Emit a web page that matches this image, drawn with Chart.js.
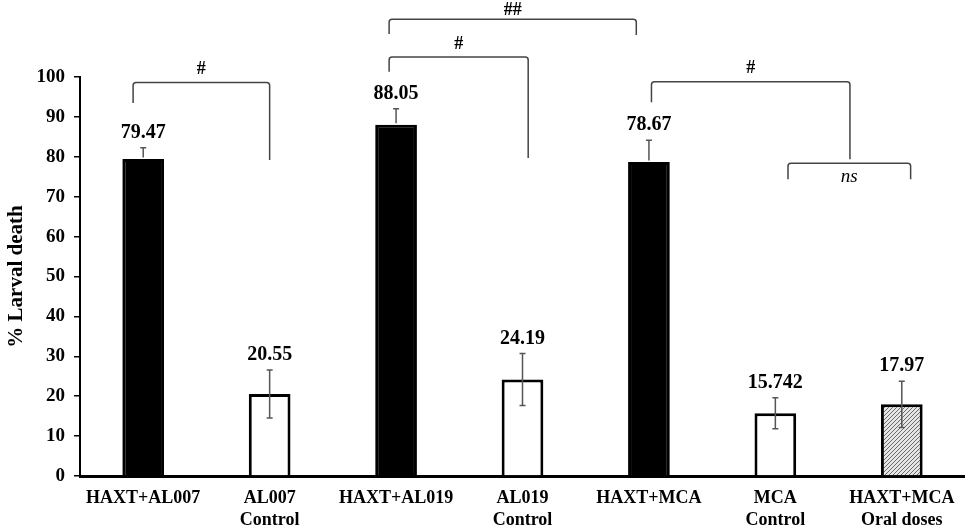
<!DOCTYPE html>
<html>
<head>
<meta charset="utf-8">
<script src="https://cdn.jsdelivr.net/npm/chart.js@4"></script>
<style>
  body { margin: 0; background: #fff; }
</style>
</head>
<body>
<canvas id="larvalChart" width="965" height="530"></canvas>
<script>
const categories = [
  "HAXT+AL007",
  ["AL007", "Control"],
  "HAXT+AL019",
  ["AL019", "Control"],
  "HAXT+MCA",
  ["MCA", "Control"],
  ["HAXT+MCA", "Oral doses"],
];
const deathPct = [79.47, 20.55, 88.05, 24.19, 78.67, 15.742, 17.97];
const errors = [2.8, 6.0, 4.0, 6.5, 5.5, 3.9, 5.8];
const valueLabels = ["79.47", "20.55", "88.05", "24.19", "78.67", "15.742", "17.97"];
const yTicks = [0, 10, 20, 30, 40, 50, 60, 70, 80, 90, 100];

// significance brackets: from/to category, top level, left/right leg ends
const brackets = [
  { from: -0.08, to: 1.0, top: 98.6, left: 93.5, right: 79.2, text: "#" },
  { from: 1.945, to: 3.045, top: 105, left: 101.3, right: 79.7, text: "#" },
  { from: 1.945, to: 3.9, top: 114.5, left: 110.8, right: 110.5, text: "##" },
  { from: 4.02, to: 5.59, top: 98.8, left: 93.7, right: 79.4, text: "#" },
  { from: 5.1, to: 6.07, top: 78.4, left: 74.4, right: 74.4, text: "ns", below: true },
];

const serif = "'Liberation Serif', 'Times New Roman', serif";

function hatchPattern() {
  const c = document.createElement("canvas");
  c.width = 4;
  c.height = 4;
  const g = c.getContext("2d");
  g.fillStyle = "#e6e6e6";
  g.fillRect(0, 0, 4, 4);
  g.strokeStyle = "#6a6a6a";
  g.lineWidth = 1;
  g.beginPath();
  g.moveTo(0, 4);
  g.lineTo(4, 0);
  g.moveTo(-1, 1);
  g.lineTo(1, -1);
  g.moveTo(3, 5);
  g.lineTo(5, 3);
  g.stroke();
  return g.createPattern(c, "repeat");
}

const solid = [true, false, true, false, true, false, false];
const fills = solid.map((s, i) => (s ? "#000" : i === 6 ? hatchPattern() : "#fff"));

const extras = {
  id: "extras",
  afterDatasetsDraw(chart) {
    const ctx = chart.ctx;
    const x = chart.scales.x;
    const y = chart.scales.y;
    const meta = chart.getDatasetMeta(0);

    ctx.save();
    // error bars (the lower half is hidden inside the black bars)
    ctx.strokeStyle = "#555";
    ctx.lineWidth = 1.5;
    meta.data.forEach((bar, i) => {
      const top = y.getPixelForValue(deathPct[i] + errors[i]);
      const bot = solid[i] ? bar.y - 1.5 : y.getPixelForValue(deathPct[i] - errors[i]);
      ctx.beginPath();
      ctx.moveTo(bar.x, top);
      ctx.lineTo(bar.x, bot);
      ctx.moveTo(bar.x - 3, top);
      ctx.lineTo(bar.x + 3, top);
      if (!solid[i]) {
        ctx.moveTo(bar.x - 3, bot);
        ctx.lineTo(bar.x + 3, bot);
      }
      ctx.stroke();
    });

    // value labels
    ctx.fillStyle = "#000";
    ctx.font = "bold 20px " + serif;
    ctx.textAlign = "center";
    ctx.textBaseline = "middle";
    meta.data.forEach((bar, i) => {
      const top = y.getPixelForValue(deathPct[i] + errors[i]);
      ctx.fillText(valueLabels[i], bar.x, top - 15);
    });

    // brackets
    const px = (v) => x.getPixelForValue(0) + v * (x.getPixelForValue(1) - x.getPixelForValue(0));
    ctx.strokeStyle = "#444";
    ctx.lineWidth = 1.5;
    brackets.forEach((b) => {
      const x1 = px(b.from);
      const x2 = px(b.to);
      const yt = y.getPixelForValue(b.top);
      ctx.beginPath();
      ctx.moveTo(x1, y.getPixelForValue(b.left));
      ctx.arcTo(x1, yt, x2, yt, 3);
      ctx.arcTo(x2, yt, x2, y.getPixelForValue(b.right), 3);
      ctx.lineTo(x2, y.getPixelForValue(b.right));
      ctx.stroke();
      if (b.below) {
        ctx.font = "italic 19px " + serif;
        ctx.fillText(b.text, (x1 + x2) / 2, yt + 14);
      } else {
        ctx.font = "bold 18px " + serif;
        ctx.fillText(b.text, (x1 + x2) / 2, Math.max(yt - 13, 10));
      }
    });
    ctx.restore();
  },
};

new Chart(document.getElementById("larvalChart"), {
  type: "bar",
  data: {
    labels: categories,
    datasets: [
      {
        data: deathPct,
        backgroundColor: fills,
        borderColor: "#000",
        borderWidth: 3,
        borderSkipped: "bottom",
        categoryPercentage: 1,
        barPercentage: 0.33,
      },
    ],
  },
  options: {
    responsive: false,
    animation: false,
    layout: { padding: { top: 77, right: 0, left: 0, bottom: 0 } },
    scales: {
      y: {
        min: 0,
        max: 100,
        afterBuildTicks: (s) => {
          s.ticks = yTicks.map((v) => ({ value: v }));
        },
        afterFit: (s) => {
          s.width = 80;
        },
        ticks: {
          color: "#000",
          padding: 9,
          font: { family: serif, size: 19, weight: "bold" },
        },
        grid: {
          drawOnChartArea: false,
          drawTicks: true,
          tickLength: 6,
          color: "#000",
          lineWidth: 1.5,
        },
        border: { display: true, color: "#000", width: 2 },
        title: {
          display: true,
          text: "% Larval death",
          color: "#000",
          padding: { top: 4, bottom: 0 },
          font: { family: serif, size: 21, weight: "bold" },
        },
      },
      x: {
        afterFit: (s) => {
          s.height = 54;
        },
        ticks: {
          color: "#000",
          padding: 3,
          maxRotation: 0,
          autoSkip: false,
          font: { family: serif, size: 18, weight: "bold", lineHeight: 1.25 },
        },
        grid: { display: false },
        border: { display: true, color: "#000", width: 3 },
      },
    },
    plugins: {
      legend: { display: false },
      tooltip: { enabled: false },
    },
  },
  plugins: [extras],
});
</script>
</body>
</html>
